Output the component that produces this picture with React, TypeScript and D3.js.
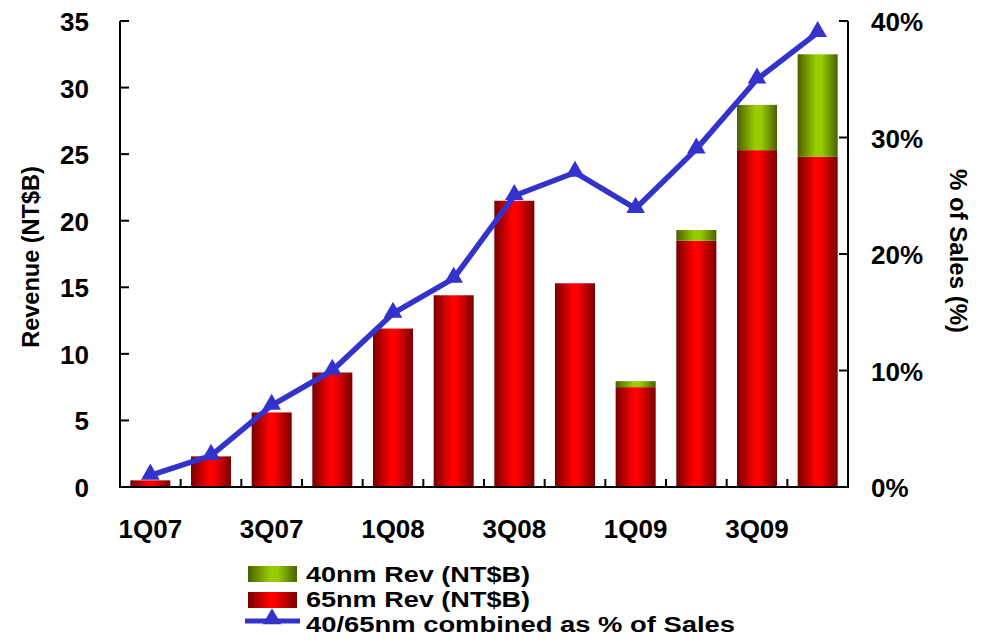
import * as d3 from 'd3'

const quarters = ['1Q07', '2Q07', '3Q07', '4Q07', '1Q08', '2Q08', '3Q08', '4Q08', '1Q09', '2Q09', '3Q09', '4Q09']
const rev65 = [0.5, 2.3, 5.6, 8.6, 11.9, 14.4, 21.5, 15.3, 7.5, 18.5, 25.3, 24.8]
const rev40 = [0, 0, 0, 0, 0, 0, 0, 0, 0.45, 0.8, 3.4, 7.7]
const pctSales = [1.0, 2.7, 7.0, 10.0, 14.9, 17.9, 25.0, 27.0, 23.9, 29.0, 35.0, 39.0]
const revTicks = [0, 5, 10, 15, 20, 25, 30, 35]
const pctTicks = [0, 10, 20, 30, 40]

const W = 985
const H = 642
const margin = { top: 21, right: 137, bottom: 155, left: 120 }
const font = 'Liberation Sans, Arial, sans-serif'
const lineColor = '#3333cc'

const App = () => {
  const x = d3.scaleBand<string>()
    .domain(quarters)
    .range([margin.left, W - margin.right])
    .paddingInner(0.34)
    .paddingOuter(0.17)
  const band = (W - margin.left - margin.right) / quarters.length
  const yL = d3.scaleLinear().domain([0, 35]).range([H - margin.bottom, margin.top])
  const yR = d3.scaleLinear().domain([0, 40]).range([H - margin.bottom, margin.top])
  const x0 = margin.left
  const x1 = W - margin.right
  const yBase = H - margin.bottom

  const line = d3.line<number>()
    .x((_, i) => x(quarters[i])! + x.bandwidth() / 2)
    .y(d => yR(d))

  const tri = d3.symbol().type(d3.symbolTriangle).size(150)

  return (
    <div style={{ position: 'absolute', left: 0, top: 0 }}>
      <svg width={W} height={H} style={{ display: 'block', background: '#fff' }} fontFamily={font} fontWeight="bold">
        <defs>
          <linearGradient id="red" x1="0" x2="1" y1="0" y2="0">
            <stop offset="0" stopColor="#780000" />
            <stop offset="0.45" stopColor="#ff0000" />
            <stop offset="0.55" stopColor="#ff0000" />
            <stop offset="1" stopColor="#780000" />
          </linearGradient>
          <linearGradient id="green" x1="0" x2="1" y1="0" y2="0">
            <stop offset="0" stopColor="#4a6000" />
            <stop offset="0.45" stopColor="#99cc00" />
            <stop offset="0.6" stopColor="#99cc00" />
            <stop offset="1" stopColor="#4a6000" />
          </linearGradient>
        </defs>

        {/* bars */}
        {quarters.map((q, i) => (
          <g key={q}>
            <rect x={x(q)} width={x.bandwidth()} y={yL(rev65[i])} height={yBase - yL(rev65[i])} fill="url(#red)" />
            {rev40[i] > 0 && (
              <rect x={x(q)} width={x.bandwidth()} y={yL(rev65[i] + rev40[i])}
                height={yL(rev65[i]) - yL(rev65[i] + rev40[i])} fill="url(#green)" />
            )}
          </g>
        ))}

        {/* axes */}
        <g stroke="#000" strokeWidth={2} fill="none">
          <line x1={x0} x2={x0} y1={margin.top} y2={yBase + 1} />
          <line x1={x1} x2={x1} y1={margin.top} y2={yBase + 1} />
          <line x1={x0} x2={x1} y1={yBase} y2={yBase} />
          {revTicks.map(t => <line key={'l' + t} x1={x0} x2={x0 + 9} y1={yL(t)} y2={yL(t)} />)}
          {pctTicks.map(t => <line key={'r' + t} x1={x1 - 9} x2={x1} y1={yR(t)} y2={yR(t)} />)}
          {quarters.slice(1).map((q, i) => (
            <line key={'b' + q} x1={x0 + band * (i + 1)} x2={x0 + band * (i + 1)} y1={yBase} y2={yBase - 8} />
          ))}
        </g>

        {/* line series */}
        <path d={line(pctSales)!} fill="none" stroke={lineColor} strokeWidth={5.5} strokeLinejoin="round" />
        {pctSales.map((p, i) => (
          <path key={'m' + i} d={tri()!} fill={lineColor}
            transform={`translate(${x(quarters[i])! + x.bandwidth() / 2},${yR(p) - 1})`} />
        ))}

        {/* tick labels */}
        <g fontSize={26} fill="#000">
          {revTicks.map(t => (
            <text key={'lt' + t} x={89} y={yL(t) + 10} textAnchor="end">{t}</text>
          ))}
          {pctTicks.map(t => (
            <text key={'rt' + t} x={871} y={yR(t) + 10}>{t}%</text>
          ))}
          {quarters.map((q, i) => i % 2 === 0 && (
            <text key={'xt' + q} x={x(q)! + x.bandwidth() / 2} y={538} textAnchor="middle">{q}</text>
          ))}
        </g>

        {/* axis titles */}
        <text transform="translate(39,257) rotate(-90)" textAnchor="middle" fontSize={23.5}>Revenue (NT$B)</text>
        <text transform="translate(950,251) rotate(90)" textAnchor="middle" fontSize={24}>% of Sales (%)</text>

        {/* legend */}
        <g fontSize={22}>
          <rect x={248} y={566} width={49} height={16} fill="url(#green)" />
          <text x={306} y={582} textLength={224} lengthAdjust="spacingAndGlyphs">40nm Rev (NT$B)</text>
          <rect x={248} y={592} width={49} height={16} fill="url(#red)" />
          <text x={306} y={607} textLength={224} lengthAdjust="spacingAndGlyphs">65nm Rev (NT$B)</text>
          <line x1={245} x2={300} y1={621} y2={621} stroke={lineColor} strokeWidth={5} />
          <path d={tri()!} fill={lineColor} transform="translate(272,619)" />
          <text x={306} y={632} textLength={429} lengthAdjust="spacingAndGlyphs">40/65nm combined as % of Sales</text>
        </g>
      </svg>
    </div>
  )
}

export default App
